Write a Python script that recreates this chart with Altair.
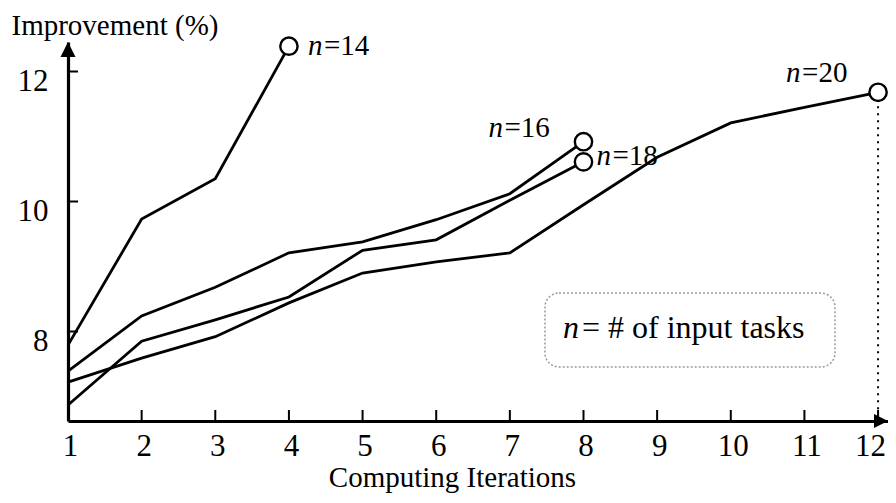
import altair as alt
import pandas as pd

# ---- data ----
iterations = list(range(1, 13))
series_names = ["n=14", "n=16", "n=18", "n=20"]
n14 = [7.79, 9.73, 10.35, 12.39]
n16 = [7.39, 8.24, 8.68, 9.21, 9.38, 9.72, 10.12, 10.92]
n18 = [6.87, 7.85, 8.18, 8.53, 9.25, 9.41, 10.02, 10.61]
n20 = [7.22, 7.59, 7.92, 8.44, 8.90, 9.07, 9.21, 9.95, 10.68, 11.21, 11.45, 11.68]
x_ticks = list(range(1, 13))
y_ticks = [8, 10, 12]
x_domain = [1, 12.135]
y_domain = [6.623, 12.454]
legend_note = ["n", "= # of input tasks"]

rows = []
for name, vals in zip(series_names, [n14, n16, n18, n20]):
    for it, v in zip(iterations, vals):
        rows.append({"series": name, "iter": it, "value": v})
df = pd.DataFrame(rows)
ends = df.groupby("series").tail(1).reset_index(drop=True)
ends["nchar"] = ends["series"].str[0]
ends["rest"] = ends["series"].str[1:]

W, H = 820, 379
FONT = "Liberation Serif"
xs = alt.Scale(domain=x_domain, nice=False, zero=False)
ys = alt.Scale(domain=y_domain, nice=False, zero=False)

xaxis = alt.Axis(values=x_ticks, ticks=False, tickSize=0, grid=False,
                 domainColor="black", domainWidth=3.2,
                 labelFont=FONT, labelFontSize=31, labelColor="black",
                 labelPadding=34, labelBaseline="alphabetic",
                 labelOffset={"condition": {"test": f"datum.value == {x_ticks[-1]}", "value": -8},
                              "value": 2},
                 labelFlush=False, labelOverlap=False,
                 title="Computing Iterations", titleFont=FONT, titleFontSize=29,
                 titleFontWeight="normal", titleColor="black",
                 titleX=384, titleY=65, titleAlign="center", titleBaseline="alphabetic")
yaxis = alt.Axis(values=y_ticks, ticks=False, tickSize=0, grid=False,
                 domainColor="black", domainWidth=3.2,
                 labelFont=FONT, labelFontSize=31, labelColor="black",
                 labelPadding=20, labelBaseline="alphabetic", labelOffset=19,
                 labelFlush=False, labelOverlap=False,
                 title="Improvement (%)", titleFont=FONT, titleFontSize=29,
                 titleFontWeight="normal", titleColor="black", titleAngle=0,
                 titleX=-57, titleY=-8, titleAlign="left", titleBaseline="alphabetic")


def X(field):
    return alt.X(field, type="quantitative", scale=xs, axis=xaxis)


def Y(field):
    return alt.Y(field, type="quantitative", scale=ys, axis=yaxis)


lines = alt.Chart(df).mark_line(color="black", strokeWidth=2.8).encode(
    x=X("iter"), y=Y("value"), detail="series:N")

xt = alt.Chart(pd.DataFrame({"t": x_ticks})).mark_rule(color="black", strokeWidth=2).encode(
    x=X("t"), y=alt.value(H), y2=alt.value(H - 11))
yt = alt.Chart(pd.DataFrame({"t": y_ticks})).mark_rule(color="black", strokeWidth=2).encode(
    y=Y("t"), x=alt.value(0), x2=alt.value(10))

xarrow = alt.Chart(pd.DataFrame({"x": [x_domain[1]], "y": [y_domain[0]]})).mark_point(
    shape="M0,0 L-2,-1 L-2,1 Z", size=196, filled=True, color="black", opacity=1).encode(
    x=X("x"), y=Y("y"))
yarrow = alt.Chart(pd.DataFrame({"x": [x_domain[0]], "y": [y_domain[1]]})).mark_point(
    shape="M0,0 L-1,2 L1,2 Z", size=225, filled=True, color="black", opacity=1).encode(
    x=X("x"), y=Y("y"))

circles = alt.Chart(ends).mark_point(shape="circle", size=300, filled=True, fill="white",
                                     stroke="black", strokeWidth=2.4, opacity=1).encode(
    x=X("iter"), y=Y("value"))

dotted = alt.Chart(ends[ends["series"] == "n=20"]).mark_rule(
    color="black", strokeWidth=2, strokeDash=[2, 5]).encode(
    x=X("iter"), y=Y("value"), y2=alt.value(H))

label_style = {"n=14": (19, 9), "n=16": (-95, -5), "n=18": (13, 3), "n=20": (-92, -10)}
label_layers = []
for name in series_names:
    dx0, dy0 = label_style[name]
    src = alt.Chart(ends).transform_filter(alt.datum.series == name)
    label_layers.append(src.mark_text(font=FONT, fontSize=29, fontStyle="italic", align="left",
                                      baseline="alphabetic", dx=dx0, dy=dy0, color="black")
                        .encode(text="nchar:N", x=X("iter"), y=Y("value")))
    label_layers.append(src.mark_text(font=FONT, fontSize=29, align="left",
                                      baseline="alphabetic", dx=dx0 + 16, dy=dy0, color="black")
                        .encode(text="rest:N", x=X("iter"), y=Y("value")))

one = pd.DataFrame({"a": [0]})
box = alt.Chart(one).mark_rect(fill="white", stroke="#9a9a9a", strokeDash=[2, 2],
                               strokeWidth=1.5, cornerRadius=14).encode(
    x=alt.value(477), x2=alt.value(767), y=alt.value(251), y2=alt.value(325))
note_n = alt.Chart(one).mark_text(text=legend_note[0], font=FONT, fontSize=32, fontStyle="italic",
                                  align="left", baseline="alphabetic", color="black").encode(
    x=alt.value(495), y=alt.value(296))
note_rest = alt.Chart(one).mark_text(text=legend_note[1], font=FONT, fontSize=32,
                                     align="left", baseline="alphabetic", color="black").encode(
    x=alt.value(514), y=alt.value(296))

chart = alt.layer(lines, xt, yt, xarrow, yarrow, dotted, circles, box, note_n, note_rest,
                  *label_layers).properties(
    width=W, height=H,
    autosize=alt.AutoSizeParams(type="none"),
    padding={"left": 60, "top": 34, "right": 0, "bottom": 74},
    background="white",
).configure_view(stroke=None)

chart.save("out.html", embed_options={"renderer": "svg", "actions": False})
